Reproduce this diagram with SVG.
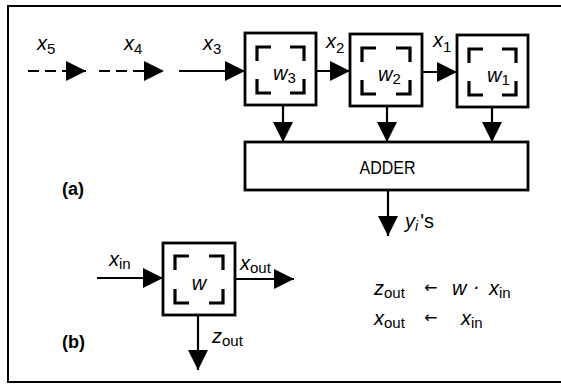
<svg xmlns="http://www.w3.org/2000/svg" width="561" height="384" viewBox="0 0 561 384">
<style>
.frame{fill:none;stroke:#000;stroke-width:2}
.box{fill:#fff;stroke:#000;stroke-width:2.8}
.br{fill:none;stroke:#000;stroke-width:3.2}
.ln{fill:none;stroke:#000;stroke-width:2.2}
.dash{stroke-dasharray:11 6}
.v{font-family:"Liberation Sans",Arial,sans-serif;font-style:italic;font-size:20px;fill:#000}
.sub{font-style:normal;font-size:15px}
.t{font-family:"Liberation Sans",Arial,sans-serif;font-size:19px;fill:#000}
.b{font-family:"Liberation Sans",Arial,sans-serif;font-weight:bold;font-size:18px;fill:#000}
.arr{font-family:"DejaVu Sans",sans-serif;font-size:16px;fill:#000}
</style>
<defs>
<marker id="ah" markerUnits="userSpaceOnUse" markerWidth="20" markerHeight="20" refX="20" refY="10" orient="auto" viewBox="0 0 20 20">
<path d="M0,0 L20,10 L0,20 z" fill="#000"/>
</marker>
</defs>
<path class="frame" d="M561,6 H8 V382 H561"/>

<g id="connectors">
<line class="ln dash" x1="28" y1="71" x2="86" y2="71" marker-end="url(#ah)"/>
<line class="ln dash" x1="99" y1="71" x2="164" y2="71" marker-end="url(#ah)"/>
<line class="ln" x1="179" y1="71" x2="245" y2="71" marker-end="url(#ah)"/>
<line class="ln" x1="316" y1="71" x2="350" y2="71" marker-end="url(#ah)"/>
<line class="ln" x1="422" y1="72" x2="457" y2="72" marker-end="url(#ah)"/>
<line class="ln" x1="283" y1="105" x2="283" y2="142" marker-end="url(#ah)"/>
<line class="ln" x1="387" y1="106" x2="387" y2="142" marker-end="url(#ah)"/>
<line class="ln" x1="492" y1="107" x2="492" y2="142" marker-end="url(#ah)"/>
<line class="ln" x1="388" y1="190" x2="388" y2="236" marker-end="url(#ah)"/>
<line class="ln" x1="97" y1="278" x2="163" y2="278" marker-end="url(#ah)"/>
<line class="ln" x1="235" y1="279" x2="294" y2="279" marker-end="url(#ah)"/>
<line class="ln" x1="198" y1="315" x2="198" y2="370" marker-end="url(#ah)"/>
</g>

<g id="w3">
<rect class="box" x="245" y="33" width="71" height="72"/>
<path class="br" d="M257,61 V47 H271 M290,47 H304 V61 M257,79 V93 H271 M290,93 H304 V79"/>
<text class="v" x="273" y="80">w<tspan class="sub" dy="3">3</tspan></text>
</g>
<g id="w2">
<rect class="box" x="350" y="34" width="72" height="72"/>
<path class="br" d="M362,62 V48 H376 M396,48 H410 V62 M362,80 V94 H376 M396,94 H410 V80"/>
<text class="v" x="378" y="81">w<tspan class="sub" dy="3">2</tspan></text>
</g>
<g id="w1">
<rect class="box" x="457" y="35" width="71" height="72"/>
<path class="br" d="M469,63 V49 H483 M502,49 H516 V63 M469,81 V95 H483 M502,95 H516 V81"/>
<text class="v" x="487" y="82">w<tspan class="sub" dy="3">1</tspan></text>
</g>
<g id="adder">
<rect class="box" x="245" y="142" width="283" height="48"/>
<text class="t" x="387.5" y="174" text-anchor="middle" textLength="56" lengthAdjust="spacingAndGlyphs">ADDER</text>
</g>
<g id="w">
<rect class="box" x="163" y="243" width="72" height="72"/>
<path class="br" d="M175,270 V256 H189 M209,256 H223 V270 M175,289 V303 H189 M209,303 H223 V289"/>
<text class="v" x="199" y="290" text-anchor="middle">w</text>
</g>

<g id="labels">
<text class="v" x="37" y="50">x<tspan class="sub" dy="4">5</tspan></text>
<text class="v" x="124" y="50">x<tspan class="sub" dy="4">4</tspan></text>
<text class="v" x="203" y="50">x<tspan class="sub" dy="4">3</tspan></text>
<text class="v" x="326" y="48">x<tspan class="sub" dy="5">2</tspan></text>
<text class="v" x="433" y="47">x<tspan class="sub" dy="5">1</tspan></text>
<text class="b" x="62" y="195">(a)</text>
<text class="v" x="405" y="228">y<tspan font-size="14px" dy="3">i</tspan><tspan font-style="normal" dy="-3" dx="2">'s</tspan></text>
<text class="v" x="109" y="266">x<tspan class="sub" dy="3">in</tspan></text>
<text class="v" x="240" y="270">x<tspan class="sub" dy="3">out</tspan></text>
<text class="v" x="212" y="343">z<tspan class="sub" dy="3">out</tspan></text>
<text class="b" x="62" y="348">(b)</text>
<text class="v" x="374" y="295">z<tspan class="sub" dy="3">out</tspan></text>
<text class="arr" x="424" y="293">←</text>
<text class="v" x="452" y="295">w</text>
<text class="v" x="473" y="293">·</text>
<text class="v" x="489" y="295">x<tspan class="sub" dy="3">in</tspan></text>
<text class="v" x="374" y="325">x<tspan class="sub" dy="3">out</tspan></text>
<text class="arr" x="424" y="323">←</text>
<text class="v" x="461" y="325">x<tspan class="sub" dy="3">in</tspan></text>
</g>
</svg>
